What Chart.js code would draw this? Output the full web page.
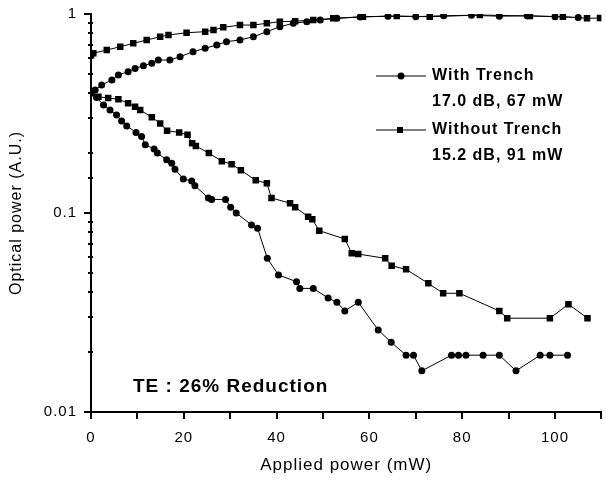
<!DOCTYPE html>
<html><head><meta charset="utf-8">
<script src="https://cdn.jsdelivr.net/npm/chart.js@4/dist/chart.umd.min.js"></script>
<style>html,body{margin:0;padding:0;background:#fff}#wrap{width:606px;height:481px;position:relative}</style>
</head><body><div id="wrap"><canvas id="c"></canvas></div>
<script>
// Applied power (mW) / optical power (A.U.)
const withTrenchRiseX = [0, 0.9, 2.3, 4.5, 5.9, 8.0, 9.5, 11.3, 13.1, 14.5, 17.0, 19.2, 22.0, 24.6, 27.1, 29.2, 32.1, 35.0, 37.9, 40.7, 43.6, 46.5, 49.4, 53.0, 58.0, 64.0, 70.0, 76.0, 82.0, 88.0, 94.0, 100.0, 105.0];
const withTrenchRiseY = [0.40, 0.415, 0.440, 0.466, 0.494, 0.513, 0.533, 0.550, 0.565, 0.587, 0.587, 0.610, 0.647, 0.672, 0.699, 0.726, 0.740, 0.769, 0.815, 0.863, 0.898, 0.915, 0.933, 0.951, 0.966, 0.975, 0.970, 0.980, 0.985, 0.975, 0.980, 0.970, 0.960];

const withTrenchFallX = [0, 1.2, 2.7, 4.1, 5.5, 6.6, 7.7, 9.7, 10.9, 11.7, 13.6, 14.3, 16.3, 17.4, 18.1, 19.9, 21.7, 22.4, 25.3, 26.0, 29.0, 30.1, 31.3, 34.6, 35.9, 38.0, 40.4, 44.3, 45.0, 47.9, 51.1, 53.0, 54.7, 57.6, 61.9, 64.7, 67.9, 69.5, 71.3, 77.7, 79.2, 80.8, 84.5, 88.0, 91.6, 96.8, 98.9, 102.7];
const withTrenchFallY = [0.41, 0.38, 0.349, 0.329, 0.311, 0.290, 0.274, 0.254, 0.242, 0.220, 0.210, 0.200, 0.185, 0.178, 0.166, 0.148, 0.145, 0.137, 0.119, 0.117, 0.117, 0.107, 0.100, 0.0871, 0.0838, 0.0592, 0.0488, 0.0452, 0.0418, 0.0418, 0.0374, 0.0356, 0.0322, 0.0356, 0.0258, 0.0224, 0.0193, 0.0193, 0.0161, 0.0193, 0.0193, 0.0193, 0.0193, 0.0193, 0.0161, 0.0193, 0.0193, 0.0193];

const withoutTrenchRiseX = [0, 0.5, 3.4, 6.3, 9.1, 12.0, 14.9, 16.7, 20.6, 24.6, 26.4, 28.5, 32.1, 35.0, 37.9, 40.7, 44.0, 47.9, 52.2, 58.6, 65.9, 73.0, 83.8, 94.6, 101.7, 106.9, 109.7];
const withoutTrenchRiseY = [0.62, 0.635, 0.659, 0.685, 0.712, 0.740, 0.769, 0.784, 0.805, 0.815, 0.831, 0.857, 0.880, 0.880, 0.898, 0.915, 0.920, 0.933, 0.951, 0.969, 0.977, 0.969, 0.988, 0.977, 0.969, 0.951, 0.955];

const withoutTrenchFallX = [0, 1.6, 3.7, 5.9, 8.0, 9.5, 10.6, 13.1, 14.9, 16.4, 19.0, 20.8, 21.8, 22.6, 25.4, 28.2, 30.3, 32.3, 35.5, 37.9, 38.9, 42.9, 44.0, 46.8, 47.7, 49.2, 54.7, 56.2, 57.6, 63.4, 64.8, 67.9, 72.7, 75.9, 79.4, 88.0, 89.7, 98.9, 102.9, 107.0];
const withoutTrenchFallY = [0.405, 0.384, 0.378, 0.373, 0.356, 0.342, 0.329, 0.303, 0.282, 0.259, 0.254, 0.247, 0.224, 0.217, 0.200, 0.182, 0.176, 0.164, 0.146, 0.141, 0.119, 0.112, 0.107, 0.0958, 0.0929, 0.0815, 0.074, 0.0627, 0.0622, 0.0592, 0.0543, 0.0521, 0.0443, 0.0395, 0.0395, 0.0322, 0.0296, 0.0296, 0.0348, 0.0296];

const xTickLabels = [0, 20, 40, 60, 80, 100];
const yTickLabels = [0.01, 0.1, 1];
const legendLines = [["With Trench", "17.0 dB, 67 mW"], ["Without Trench", "15.2 dB, 91 mW"]];
const noteText = "TE : 26% Reduction";

function pts(xs, ys) { return xs.map((x, i) => ({ x: x, y: ys[i] })); }
const FONT = '"Liberation Sans", Arial, sans-serif';

function ds(label, xs, ys, style, r) {
  return { label, data: pts(xs, ys), borderColor: '#000', backgroundColor: '#000', borderWidth: 1,
    pointStyle: style, pointRadius: r, pointHoverRadius: r, pointBorderWidth: 0, tension: 0, fill: false };
}

const spacingPlugin = {
  id: 'spacing',
  beforeUpdate(c) { c.ctx.letterSpacing = '1px'; },
  beforeDraw(c) { c.ctx.letterSpacing = '1px'; }
};

const isDecade = v => Math.abs(Math.log10(v) - Math.round(Math.log10(v))) < 1e-6;

const tickMarks = {
  id: 'tickMarks',
  afterDraw(c) {
    const ctx = c.ctx, xs = c.scales.x, ys = c.scales.y;
    ctx.save();
    ctx.strokeStyle = '#000';
    ctx.lineWidth = 2;
    const b = c.chartArea.bottom, l = c.chartArea.left;
    xs.ticks.forEach(t => {
      const px = Math.round(xs.getPixelForValue(t.value));
      ctx.beginPath(); ctx.moveTo(px, b); ctx.lineTo(px, b + 7); ctx.stroke();
    });
    ys.ticks.forEach(t => {
      const py = Math.round(ys.getPixelForValue(t.value));
      ctx.beginPath();
      if (isDecade(t.value)) { ctx.moveTo(l - 7, py); ctx.lineTo(l, py); }
      else { ctx.moveTo(l - 3, py); ctx.lineTo(l + 2, py); }
      ctx.stroke();
    });
    ctx.restore();
  }
};

const annotPlugin = {
  id: 'annot',
  afterDraw(c) {
    const ctx = c.ctx;
    ctx.save();
    ctx.letterSpacing = '1px';
    ctx.fillStyle = '#000'; ctx.strokeStyle = '#000';
    ctx.textBaseline = 'middle'; ctx.textAlign = 'left';
    ctx.font = 'bold 16px ' + FONT;
    const rows = [[76, 102], [130, 156]];
    legendLines.forEach((l, i) => {
      const y = rows[i][0];
      ctx.lineWidth = 1;
      ctx.beginPath(); ctx.moveTo(376, y); ctx.lineTo(426, y); ctx.stroke();
      if (i === 0) { ctx.beginPath(); ctx.arc(401, y, 3.5, 0, Math.PI * 2); ctx.fill(); }
      else { ctx.fillRect(397, y - 3, 6, 6); }
      ctx.fillText(l[0], 432, y);
      ctx.fillText(l[1], 432, rows[i][1]);
    });
    ctx.font = 'bold 19px ' + FONT;
    ctx.fillText(noteText, 133, 387);
    ctx.restore();
  }
};

new Chart(document.getElementById('c'), {
  type: 'line',
  data: { datasets: [
    ds('With Trench rise', withTrenchRiseX, withTrenchRiseY, 'circle', 3.5),
    ds('With Trench', withTrenchFallX, withTrenchFallY, 'circle', 3.5),
    ds('Without Trench rise', withoutTrenchRiseX, withoutTrenchRiseY, 'rect', 4.6),
    ds('Without Trench', withoutTrenchFallX, withoutTrenchFallY, 'rect', 4.6)
  ] },
  options: {
    responsive: true, maintainAspectRatio: false, animation: false, devicePixelRatio: 1,
    layout: { padding: { top: 14, right: 4, left: 0, bottom: 0 } },
    plugins: { legend: { display: false }, tooltip: { enabled: false } },
    scales: {
      x: {
        type: 'linear', min: 0, max: 110,
        border: { display: true, color: '#000', width: 2 },
        grid: { display: true, drawOnChartArea: false, drawTicks: true, tickLength: 6, tickColor: 'rgba(0,0,0,0)' },
        ticks: { stepSize: 10, autoSkip: false, maxRotation: 0, padding: 11, color: '#000', font: { family: FONT, size: 15 },
          callback: v => xTickLabels.includes(v) ? String(v) : '' },
        title: { display: true, text: 'Applied power (mW)', color: '#000', font: { family: FONT, size: 17 }, padding: { top: 0, bottom: 5 } },
        afterFit: s => { s.height = 69; s.paddingLeft = 0; s.paddingRight = 0; }
      },
      y: {
        type: 'logarithmic', min: 0.01, max: 1,
        border: { display: true, color: '#000', width: 2 },
        grid: { display: true, drawOnChartArea: false, drawTicks: true, tickLength: 6, tickColor: 'rgba(0,0,0,0)' },
        ticks: { autoSkip: false, padding: 8, color: '#000', font: { family: FONT, size: 15 },
          callback: v => {
            const m = yTickLabels.find(t => Math.abs(Math.log10(v) - Math.log10(t)) < 1e-6);
            return m !== undefined ? String(m) : '';
          } },
        title: { display: true, text: 'Optical power (A.U.)', color: '#000', font: { family: FONT, size: 16 }, padding: { top: 7, bottom: 0 } },
        afterFit: s => { s.width = 91; s.paddingTop = 0; s.paddingBottom = 0; }
      }
    }
  },
  plugins: [spacingPlugin, tickMarks, annotPlugin]
});
</script></body></html>
